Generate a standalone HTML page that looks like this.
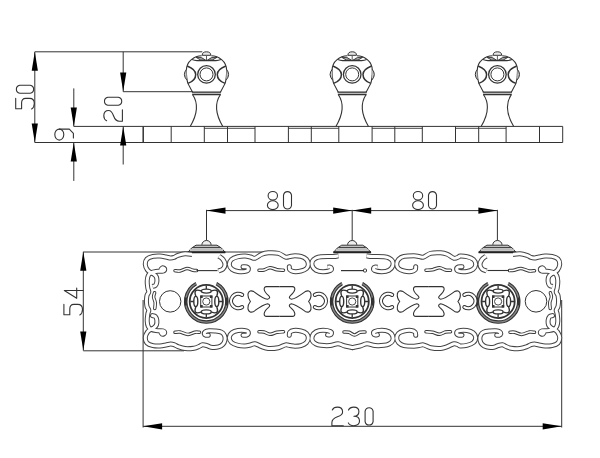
<!DOCTYPE html><html><head><meta charset="utf-8"><style>html,body{margin:0;padding:0;background:#fff;width:600px;height:458px;overflow:hidden}svg{display:block}</style></head><body>
<div id="wrap"><svg width="600" height="458" viewBox="0 0 600 458">
<rect width="600" height="458" fill="#fff"/>
<defs>
<g id="knob" fill="none" stroke="#333" stroke-width="1">
<path d="M-4.3,55.3 A4.3,3.5 0 0 1 4.3,55.3 Z" fill="#e8e8e8"/>
<path d="M-10.5,57.3 Q-5,56.2 -0.8,60.2 Q-6,61.4 -10.5,57.3 Z M10.5,57.3 Q5,56.2 0.8,60.2 Q6,61.4 10.5,57.3 Z" fill="#aaa" stroke-width="0.9"/>
<path d="M0,56 V60.5" stroke-width="0.8"/>
<path d="M-14.5,59.6 Q-12,60.6 -9.5,60.6 H9.5 Q12,60.6 14.5,59.6" stroke-width="1.1"/>
<path d="M-4.8,55.8 C-12,56 -20,61 -20.1,70 C-20.2,77 -19.5,80.5 -18.6,83.4 L-13.9,92.2 M4.8,55.8 C12,56 20,61 20.1,70 C20.2,77 19.5,80.5 18.6,83.4 L13.9,92.2" stroke-width="1.1"/>
<path d="M-20,69.3 Q-24.3,74.5 -19.8,79.9 M20,69.3 Q24.3,74.5 19.8,79.9" fill="#c8c8c8"/>
<path d="M-19.3,66 C-13,68.5 -10.8,71.5 -10.8,74.5 C-10.8,78.5 -14,81.8 -18.6,83.4 M19.3,66 C13,68.5 10.8,71.5 10.8,74.5 C10.8,78.5 14,81.8 18.6,83.4" stroke-width="1.5"/>
<circle cx="0" cy="74.4" r="8.8" stroke-width="1.3"/>
<circle cx="0" cy="74.4" r="6.5" stroke-width="1"/>
<rect x="-14.4" y="92.1" width="28.8" height="2.5" fill="#bbb" stroke="none"/><path d="M-14.6,92.1 H14.6 M-14.3,94.6 H14.3" stroke-width="1.3"/>
<path d="M-13.8,94.8 C-8.3,103 -8.3,113 -16.3,126.5 M13.8,94.8 C8.3,103 8.3,113 16.3,126.5" stroke-width="1.1"/>
</g>
<g id="hat" stroke="#333" stroke-width="1">
<path d="M-4.6,244.8 A4.6,4.3 0 0 1 4.6,244.8" fill="#eee"/>
<path d="M-10.5,245.2 H10.5 Q15.5,247.5 18.6,252.3 H-18.6 Q-15.5,247.5 -10.5,245.2 Z" fill="#c8c8c8"/>
<path d="M-13.6,247.5 H13.6" stroke="#444" stroke-width="1.1"/>
<path d="M-16.5,249.6 H16.5" stroke="#bbb" stroke-width="1.2"/>
<path d="M-18.8,252.3 H18.8" stroke-width="1.9" stroke="#222"/>
</g>
<g id="med" fill="none" stroke="#333" stroke-width="1"><path d="M9.99,-18.02 A20.6,20.6 0 1 1 -9.99,-18.02" stroke="#888" stroke-width="2.4"/><path d="M10.57,-19.07 A21.8,21.8 0 1 1 -10.57,-19.07" stroke-width="1.1"/><path d="M9.70,-16.80 A19.4,19.4 0 1 1 -9.70,-16.80" stroke-width="1.1"/><path d="M-20.6,-4 V4 M20.6,-4 V4" stroke-width="2.4"/><circle r="16.6" stroke-width="1.8"/><path d="M-10.5,-5.4 Q-13.4,-13.4 -5.2,-10.6" stroke-width="1.4"/><path d="M-10.5,5.4 Q-13.4,13.4 -5.2,10.6" stroke-width="1.4"/><path d="M10.5,-5.4 Q13.4,-13.4 5.2,-10.6" stroke-width="1.4"/><path d="M10.5,5.4 Q13.4,13.4 5.2,10.6" stroke-width="1.4"/><ellipse cx="0" cy="-10.4" rx="5" ry="2" stroke-width="1.4"/><ellipse cx="0" cy="10.4" rx="5" ry="2" stroke-width="1.4"/><ellipse cx="-10.5" cy="0" rx="2" ry="5.1" stroke-width="1.4"/><ellipse cx="10.5" cy="0" rx="2" ry="5.1" stroke-width="1.4"/><path d="M0,-12.4 V-16 M0,12.4 V16 M-12.5,0 H-16 M12.5,0 H16" stroke-width="1.3"/><rect x="-5.6" y="-5.5" width="11.2" height="11" stroke-width="1"/><path d="M-6.1,-6 h2.5 v2.5 h-2.5 Z M6.1,-6 h-2.5 v2.5 h2.5 Z M-6.1,6 h2.5 v-2.5 h-2.5 Z M6.1,6 h-2.5 v-2.5 h2.5 Z" fill="#333" stroke="none"/><circle r="3.6" stroke-width="0.9"/></g>
<g id="cc" fill="none" stroke="#333" stroke-width="1"><path d="M3.8,-6.1 A7.2,7.2 0 1 0 3.8,6.1" stroke-width="4.2" stroke-linecap="round"/><path d="M3.8,-6.1 A7.2,7.2 0 1 0 3.8,6.1" stroke="#fff" stroke-width="2.2" stroke-linecap="round"/></g>
</defs>
<g fill="none" stroke="#333" stroke-width="1">
<path d="M73.8,126.4 H562.7 M34.8,142.5 H562.7 M562.7,126.4 V142.5"/>
<path d="M143.2,126.4 V142.5" stroke-width="1.5"/>
<path d="M171.2,126.4 V142.5"/>
<path d="M204.3,126.4 V142.5"/>
<path d="M227.5,126.4 V142.5"/>
<path d="M255.0,126.4 V142.5"/>
<path d="M288.4,126.4 V142.5"/>
<path d="M311.3,126.4 V142.5"/>
<path d="M338.8,126.4 V142.5"/>
<path d="M372.1,126.4 V142.5"/>
<path d="M394.8,126.4 V142.5"/>
<path d="M422.3,126.4 V142.5"/>
<path d="M455.5,126.4 V142.5"/>
<path d="M478.7,126.4 V142.5"/>
<path d="M506.1,126.4 V142.5"/>
<path d="M539.5,126.4 V142.5"/>
<path d="M204.3,128.3 H255.0" stroke-width="0.9"/>
<path d="M288.4,128.3 H338.8" stroke-width="0.9"/>
<path d="M372.1,128.3 H422.3" stroke-width="0.9"/>
<path d="M455.5,128.3 H506.1" stroke-width="0.9"/>
<path d="M34.8,51.8 H202.3 M34.8,51.8 V142.5"/>
<path d="M123.2,51.8 V91.7 H192.6 M123.2,126.4 V164.5"/>
<path d="M73.8,88.4 V126.4 M73.8,142.5 V180.9"/>
</g>
<g fill="#000" stroke="none">
<polygon points="34.80,51.80 31.70,70.80 37.90,70.80"/>
<polygon points="34.80,142.50 31.70,123.50 37.90,123.50"/>
<polygon points="123.20,91.50 120.10,72.50 126.30,72.50"/>
<polygon points="123.20,126.40 120.10,145.40 126.30,145.40"/>
<polygon points="73.80,126.40 70.70,107.40 76.90,107.40"/>
<polygon points="73.80,142.50 70.70,161.50 76.90,161.50"/>
</g>
<use href="#knob" transform="translate(206.5,0)"/>
<use href="#knob" transform="translate(352.2,0)"/>
<use href="#knob" transform="translate(497.4,0)"/>
<g fill="none" stroke="#333" stroke-width="1.1" stroke-linecap="round" stroke-linejoin="round">
<g transform="translate(15.2,109.4) rotate(-90)"><path d="M11,0.5 H0.6 V6.4 H6.6 Q11,6.4 11,10.4 V14.4 Q11,19.1 5.8,19.1 Q1.8,19.1 0.5,16.4"/></g>
<g transform="translate(15.2,93.7) rotate(-90)"><path d="M0.5,4.6 V15 A4.1,4.4 0 0 0 8.5,15 V4.6 A4.1,4.4 0 0 0 0.5,4.6 Z"/></g>
<g transform="translate(103.3,121.7) rotate(-90)"><path d="M0.9,3.3 Q2.3,0.5 5.9,0.5 Q11.2,0.5 11.2,5.3 Q11.2,8.4 6,10.2 Q0.5,12.2 0.5,16 V19.1 H11.9"/></g>
<g transform="translate(103.3,105.7) rotate(-90)"><path d="M0.5,4.6 V15 A4.1,4.4 0 0 0 8.5,15 V4.6 A4.1,4.4 0 0 0 0.5,4.6 Z"/></g>
<g transform="translate(54.3,140.6) rotate(-90)"><ellipse cx="6" cy="5" rx="5.5" ry="4.5"/><path d="M11.5,5 V15 L7.3,19.1 H2.6"/></g>
<g transform="translate(63.4,315.4) rotate(-90)"><path d="M11,0.5 H0.6 V6.4 H6.6 Q11,6.4 11,10.4 V14.4 Q11,19.1 5.8,19.1 Q1.8,19.1 0.5,16.4"/></g>
<g transform="translate(63.8,298.8) rotate(-90)"><path d="M8.3,19.4 V0.5 L0.5,12.9 H10.8"/></g>
<g transform="translate(266.8,190.5)"><ellipse cx="6" cy="5.3" rx="4.7" ry="4.3"/><ellipse cx="6" cy="14.7" rx="5.4" ry="4.4"/></g>
<g transform="translate(283,190.5)"><path d="M0.5,4.6 V15 A4.1,4.4 0 0 0 8.5,15 V4.6 A4.1,4.4 0 0 0 0.5,4.6 Z"/></g>
<g transform="translate(412,190.5)"><ellipse cx="6" cy="5.3" rx="4.7" ry="4.3"/><ellipse cx="6" cy="14.7" rx="5.4" ry="4.4"/></g>
<g transform="translate(428,190.5)"><path d="M0.5,4.6 V15 A4.1,4.4 0 0 0 8.5,15 V4.6 A4.1,4.4 0 0 0 0.5,4.6 Z"/></g>
<g transform="translate(331.4,406.6)"><path d="M0.9,3.3 Q2.3,0.5 5.9,0.5 Q11.2,0.5 11.2,5.3 Q11.2,8.4 6,10.2 Q0.5,12.2 0.5,16 V19.1 H11.9"/></g>
<g transform="translate(347.9,406.6)"><path d="M0.6,3.5 Q2,0.5 5.8,0.5 Q11,0.5 11,5 Q11,9.7 6,9.7 Q11.6,9.7 11.6,14.5 Q11.6,19.1 5.8,19.1 Q1.6,19.1 0.4,16.3"/></g>
<g transform="translate(364.6,406.6)"><path d="M0.5,4.6 V15 A4.1,4.4 0 0 0 8.5,15 V4.6 A4.1,4.4 0 0 0 0.5,4.6 Z"/></g>
</g>
<g fill="none" stroke="#333" stroke-width="1">
<path d="M206.5,209.8 V240.4 M352.2,209.8 V240.4 M497.4,209.8 V240.4 M206.5,210.6 H497.4"/>
<path d="M83.3,251.8 V350.6 M83.3,252 H275 M83.3,350.8 H184"/>
<path d="M143.1,300 V427.5 M561.7,300 V427.5 M143.1,426.3 H561.7"/>
</g>
<g fill="#000" stroke="none">
<polygon points="206.50,210.60 225.50,207.50 225.50,213.70"/>
<polygon points="352.20,210.60 333.20,207.50 333.20,213.70"/>
<polygon points="352.20,210.60 371.20,207.50 371.20,213.70"/>
<polygon points="497.40,210.60 478.40,207.50 478.40,213.70"/>
<polygon points="83.30,251.80 80.20,270.80 86.40,270.80"/>
<polygon points="83.30,350.60 80.20,331.60 86.40,331.60"/>
<polygon points="143.10,426.30 162.10,423.20 162.10,429.40"/>
<polygon points="561.70,426.30 542.70,423.20 542.70,429.40"/>
</g>
<use href="#hat" transform="translate(206.5,0)"/>
<use href="#hat" transform="translate(352.2,0)"/>
<use href="#hat" transform="translate(497.4,0)"/>
<defs><g id="bL"><path d="M152.50,315.60 C152.97,315.75 154.58,315.77 155.30,316.50 C156.02,317.23 156.62,318.58 156.80,320.00 C156.98,321.42 156.90,323.70 156.40,325.00 C155.90,326.30 154.70,327.08 153.80,327.80 C152.90,328.52 152.05,328.60 151.00,329.30 C149.95,330.00 148.45,330.63 147.50,332.00 C146.55,333.37 145.38,335.67 145.30,337.50 C145.22,339.33 145.72,341.65 147.00,343.00 C148.28,344.35 150.83,345.10 153.00,345.60 C155.17,346.10 157.83,346.10 160.00,346.00 C162.17,345.90 164.25,345.33 166.00,345.00 C167.75,344.67 169.17,344.07 170.50,344.00 C171.83,343.93 172.75,344.17 174.00,344.60 C175.25,345.03 176.17,345.93 178.00,346.60 C179.83,347.27 182.33,348.33 185.00,348.60 C187.67,348.87 191.67,348.55 194.00,348.20 C196.33,347.85 197.58,347.07 199.00,346.50 C200.42,345.93 201.17,344.95 202.50,344.80 C203.83,344.65 205.58,345.20 207.00,345.60 C208.42,346.00 209.08,346.98 211.00,347.20 C212.92,347.42 216.50,347.40 218.50,346.90 C220.50,346.40 221.92,345.35 223.00,344.20 C224.08,343.05 224.75,341.45 225.00,340.00 C225.25,338.55 225.08,336.80 224.50,335.50 C223.92,334.20 223.08,332.95 221.50,332.20 C219.92,331.45 217.08,331.23 215.00,331.00 C212.92,330.77 210.62,330.68 209.00,330.80 C207.38,330.92 206.08,331.17 205.30,331.70 C204.52,332.23 204.18,333.40 204.30,334.00 C204.42,334.60 205.33,335.10 206.00,335.30 C206.67,335.50 207.92,335.22 208.30,335.20"/><path d="M160.90,332.60 C161.18,332.88 161.97,334.25 162.60,334.30 C163.23,334.35 164.67,333.48 164.70,332.90 C164.73,332.32 164.25,331.18 162.80,330.80 C161.35,330.42 157.97,330.85 156.00,330.60 C154.03,330.35 152.28,329.98 151.00,329.30 C149.72,328.62 148.93,327.88 148.30,326.50 C147.67,325.12 147.28,323.08 147.20,321.00 C147.12,318.92 147.53,315.80 147.80,314.00 C148.07,312.20 148.93,311.45 148.80,310.20 C148.67,308.95 147.40,307.95 147.00,306.50 C146.60,305.05 146.50,302.33 146.40,301.50"/><path d="M243.00,335.20 C243.58,335.18 245.60,335.43 246.50,335.10 C247.40,334.77 248.40,333.90 248.40,333.20 C248.40,332.50 248.23,331.33 246.50,330.90 C244.77,330.47 240.42,330.28 238.00,330.60 C235.58,330.92 233.45,331.65 232.00,332.80 C230.55,333.95 229.38,335.88 229.30,337.50 C229.22,339.12 230.05,341.20 231.50,342.50 C232.95,343.80 235.75,344.72 238.00,345.30 C240.25,345.88 242.92,346.05 245.00,346.00 C247.08,345.95 248.83,345.38 250.50,345.00 C252.17,344.62 253.13,343.42 255.00,343.70 C256.87,343.98 259.48,345.90 261.70,346.70 C263.92,347.50 265.53,348.33 268.30,348.50 C271.07,348.67 275.43,348.30 278.30,347.70 C281.17,347.10 283.55,345.25 285.50,344.90 C287.45,344.55 288.42,345.38 290.00,345.60 C291.58,345.82 293.17,346.20 295.00,346.20 C296.83,346.20 299.12,346.17 301.00,345.60 C302.88,345.03 305.08,344.07 306.30,342.80 C307.52,341.53 308.27,339.55 308.30,338.00 C308.33,336.45 307.72,334.67 306.50,333.50 C305.28,332.33 303.17,331.50 301.00,331.00 C298.83,330.50 295.37,330.28 293.50,330.50 C291.63,330.72 290.50,331.50 289.80,332.30 C289.10,333.10 289.38,334.80 289.30,335.30"/><path d="M327.60,334.70 C327.92,334.77 328.88,335.22 329.50,335.10 C330.12,334.98 331.13,334.58 331.30,334.00 C331.47,333.42 331.88,332.22 330.50,331.60 C329.12,330.98 325.42,330.27 323.00,330.30 C320.58,330.33 317.78,330.85 316.00,331.80 C314.22,332.75 312.88,334.47 312.30,336.00 C311.72,337.53 311.88,339.67 312.50,341.00 C313.12,342.33 314.58,343.28 316.00,344.00 C317.42,344.72 318.67,345.05 321.00,345.30 C323.33,345.55 327.17,345.75 330.00,345.50 C332.83,345.25 335.50,343.72 338.00,343.80 C340.50,343.88 342.58,345.37 345.00,346.00 C347.42,346.63 351.25,347.33 352.50,347.60"/><path d="M160.90,269.40 C161.18,269.12 161.97,267.75 162.60,267.70 C163.23,267.65 164.67,268.52 164.70,269.10 C164.73,269.68 164.25,270.82 162.80,271.20 C161.35,271.58 157.97,271.15 156.00,271.40 C154.03,271.65 152.28,272.02 151.00,272.70 C149.72,273.38 148.93,274.12 148.30,275.50 C147.67,276.88 147.28,278.92 147.20,281.00 C147.12,283.08 147.53,286.20 147.80,288.00 C148.07,289.80 148.93,290.55 148.80,291.80 C148.67,293.05 147.40,294.05 147.00,295.50 C146.60,296.95 146.50,299.67 146.40,300.50"/><path d="M243.00,266.80 C243.58,266.82 245.60,266.57 246.50,266.90 C247.40,267.23 248.40,268.10 248.40,268.80 C248.40,269.50 248.23,270.67 246.50,271.10 C244.77,271.53 240.42,271.72 238.00,271.40 C235.58,271.08 233.45,270.35 232.00,269.20 C230.55,268.05 229.38,266.12 229.30,264.50 C229.22,262.88 230.05,260.80 231.50,259.50 C232.95,258.20 235.75,257.28 238.00,256.70 C240.25,256.12 242.92,255.95 245.00,256.00 C247.08,256.05 248.83,256.62 250.50,257.00 C252.17,257.38 253.13,258.75 255.00,258.30 C256.87,257.85 259.48,255.22 261.70,254.30 C263.92,253.38 265.53,252.97 268.30,252.80 C271.07,252.63 275.43,252.58 278.30,253.30 C281.17,254.02 283.55,256.58 285.50,257.10 C287.45,257.62 288.42,256.62 290.00,256.40 C291.58,256.18 293.17,255.80 295.00,255.80 C296.83,255.80 299.12,255.83 301.00,256.40 C302.88,256.97 305.08,257.93 306.30,259.20 C307.52,260.47 308.27,262.45 308.30,264.00 C308.33,265.55 307.72,267.33 306.50,268.50 C305.28,269.67 303.17,270.50 301.00,271.00 C298.83,271.50 295.37,271.72 293.50,271.50 C291.63,271.28 290.50,270.50 289.80,269.70 C289.10,268.90 289.38,267.20 289.30,266.70"/><path d="M552.50,315.60 C552.03,315.75 550.42,315.77 549.70,316.50 C548.98,317.23 548.38,318.58 548.20,320.00 C548.02,321.42 548.10,323.70 548.60,325.00 C549.10,326.30 550.30,327.08 551.20,327.80 C552.10,328.52 552.95,328.60 554.00,329.30 C555.05,330.00 556.55,330.63 557.50,332.00 C558.45,333.37 559.62,335.67 559.70,337.50 C559.78,339.33 559.28,341.65 558.00,343.00 C556.72,344.35 554.17,345.10 552.00,345.60 C549.83,346.10 547.17,346.10 545.00,346.00 C542.83,345.90 540.75,345.33 539.00,345.00 C537.25,344.67 535.83,344.07 534.50,344.00 C533.17,343.93 532.25,344.17 531.00,344.60 C529.75,345.03 528.83,345.93 527.00,346.60 C525.17,347.27 522.67,348.33 520.00,348.60 C517.33,348.87 513.33,348.55 511.00,348.20 C508.67,347.85 507.42,347.07 506.00,346.50 C504.58,345.93 503.83,344.95 502.50,344.80 C501.17,344.65 499.42,345.20 498.00,345.60 C496.58,346.00 495.92,346.98 494.00,347.20 C492.08,347.42 488.50,347.40 486.50,346.90 C484.50,346.40 483.08,345.35 482.00,344.20 C480.92,343.05 480.25,341.45 480.00,340.00 C479.75,338.55 479.92,336.80 480.50,335.50 C481.08,334.20 481.92,332.95 483.50,332.20 C485.08,331.45 487.92,331.23 490.00,331.00 C492.08,330.77 494.38,330.68 496.00,330.80 C497.62,330.92 498.92,331.17 499.70,331.70 C500.48,332.23 500.82,333.40 500.70,334.00 C500.58,334.60 499.67,335.10 499.00,335.30 C498.33,335.50 497.08,335.22 496.70,335.20"/><path d="M544.10,332.60 C543.82,332.88 543.03,334.25 542.40,334.30 C541.77,334.35 540.33,333.48 540.30,332.90 C540.27,332.32 540.75,331.18 542.20,330.80 C543.65,330.42 547.03,330.85 549.00,330.60 C550.97,330.35 552.72,329.98 554.00,329.30 C555.28,328.62 556.07,327.88 556.70,326.50 C557.33,325.12 557.72,323.08 557.80,321.00 C557.88,318.92 557.47,315.80 557.20,314.00 C556.93,312.20 556.07,311.45 556.20,310.20 C556.33,308.95 557.60,307.95 558.00,306.50 C558.40,305.05 558.50,302.33 558.60,301.50"/><path d="M462.00,335.20 C461.42,335.18 459.40,335.43 458.50,335.10 C457.60,334.77 456.60,333.90 456.60,333.20 C456.60,332.50 456.77,331.33 458.50,330.90 C460.23,330.47 464.58,330.28 467.00,330.60 C469.42,330.92 471.55,331.65 473.00,332.80 C474.45,333.95 475.62,335.88 475.70,337.50 C475.78,339.12 474.95,341.20 473.50,342.50 C472.05,343.80 469.25,344.72 467.00,345.30 C464.75,345.88 461.42,346.05 460.00,346.00 C458.58,345.95 459.50,345.38 458.50,345.00 C457.50,344.62 455.87,343.42 454.00,343.70 C452.13,343.98 449.52,345.90 447.30,346.70 C445.08,347.50 443.47,348.33 440.70,348.50 C437.93,348.67 433.57,348.30 430.70,347.70 C427.83,347.10 425.45,345.25 423.50,344.90 C421.55,344.55 420.58,345.38 419.00,345.60 C417.42,345.82 416.50,346.20 414.00,346.20 C411.50,346.20 406.55,346.17 404.00,345.60 C401.45,345.03 399.92,344.07 398.70,342.80 C397.48,341.53 396.73,339.55 396.70,338.00 C396.67,336.45 397.28,334.67 398.50,333.50 C399.72,332.33 401.83,331.50 404.00,331.00 C406.17,330.50 409.63,330.28 411.50,330.50 C413.37,330.72 414.50,331.50 415.20,332.30 C415.90,333.10 415.62,334.80 415.70,335.30"/><path d="M377.40,334.70 C377.08,334.77 376.12,335.22 375.50,335.10 C374.88,334.98 373.87,334.58 373.70,334.00 C373.53,333.42 373.12,332.22 374.50,331.60 C375.88,330.98 379.58,330.27 382.00,330.30 C384.42,330.33 387.22,330.85 389.00,331.80 C390.78,332.75 392.12,334.47 392.70,336.00 C393.28,337.53 393.12,339.67 392.50,341.00 C391.88,342.33 390.42,343.28 389.00,344.00 C387.58,344.72 386.33,345.05 384.00,345.30 C381.67,345.55 377.83,345.75 375.00,345.50 C372.17,345.25 369.50,343.72 367.00,343.80 C364.50,343.88 362.42,345.37 360.00,346.00 C357.58,346.63 353.75,347.33 352.50,347.60"/><path d="M544.10,269.40 C543.82,269.12 543.03,267.75 542.40,267.70 C541.77,267.65 540.33,268.52 540.30,269.10 C540.27,269.68 540.75,270.82 542.20,271.20 C543.65,271.58 547.03,271.15 549.00,271.40 C550.97,271.65 552.72,272.02 554.00,272.70 C555.28,273.38 556.07,274.12 556.70,275.50 C557.33,276.88 557.72,278.92 557.80,281.00 C557.88,283.08 557.47,286.20 557.20,288.00 C556.93,289.80 556.07,290.55 556.20,291.80 C556.33,293.05 557.60,294.05 558.00,295.50 C558.40,296.95 558.50,299.67 558.60,300.50"/><path d="M462.00,266.80 C461.42,266.82 459.40,266.57 458.50,266.90 C457.60,267.23 456.60,268.10 456.60,268.80 C456.60,269.50 456.77,270.67 458.50,271.10 C460.23,271.53 464.58,271.72 467.00,271.40 C469.42,271.08 471.55,270.35 473.00,269.20 C474.45,268.05 475.62,266.12 475.70,264.50 C475.78,262.88 474.95,260.80 473.50,259.50 C472.05,258.20 469.25,257.28 467.00,256.70 C464.75,256.12 461.42,255.95 460.00,256.00 C458.58,256.05 459.50,256.62 458.50,257.00 C457.50,257.38 455.87,258.75 454.00,258.30 C452.13,257.85 449.52,255.22 447.30,254.30 C445.08,253.38 443.47,252.97 440.70,252.80 C437.93,252.63 433.57,252.58 430.70,253.30 C427.83,254.02 425.45,256.58 423.50,257.10 C421.55,257.62 420.58,256.62 419.00,256.40 C417.42,256.18 416.50,255.80 414.00,255.80 C411.50,255.80 406.55,255.83 404.00,256.40 C401.45,256.97 399.92,257.93 398.70,259.20 C397.48,260.47 396.73,262.45 396.70,264.00 C396.67,265.55 397.28,267.33 398.50,268.50 C399.72,269.67 401.83,270.50 404.00,271.00 C406.17,271.50 409.63,271.72 411.50,271.50 C413.37,271.28 414.50,270.50 415.20,269.70 C415.90,268.90 415.62,267.20 415.70,266.70"/><path stroke-linecap="butt" d="M152.50,286.40 C152.97,286.25 154.58,286.23 155.30,285.50 C156.02,284.77 156.62,283.42 156.80,282.00 C156.98,280.58 156.90,278.30 156.40,277.00 C155.90,275.70 154.70,274.92 153.80,274.20 C152.90,273.48 152.05,273.40 151.00,272.70 C149.95,272.00 148.45,271.37 147.50,270.00 C146.55,268.63 145.38,266.33 145.30,264.50 C145.22,262.67 145.72,260.35 147.00,259.00 C148.28,257.65 150.83,256.90 153.00,256.40 C155.17,255.90 157.83,255.90 160.00,256.00 C162.17,256.10 164.25,256.67 166.00,257.00 C167.75,257.33 169.17,257.93 170.50,258.00 C171.83,258.07 172.75,257.83 174.00,257.40 C175.25,256.97 176.17,256.00 178.00,255.40 C179.83,254.80 182.67,253.97 185.00,253.80 C187.33,253.63 190.83,254.30 192.00,254.40"/><path stroke-linecap="butt" d="M219.00,256.20 C219.67,256.75 222.00,258.12 223.00,259.50 C224.00,260.88 225.00,262.92 225.00,264.50 C225.00,266.08 224.08,267.92 223.00,269.00 C221.92,270.08 219.25,270.67 218.50,271.00"/><path stroke-linecap="butt" d="M327.60,267.30 C327.92,267.23 328.88,266.78 329.50,266.90 C330.12,267.02 331.13,267.42 331.30,268.00 C331.47,268.58 331.88,269.78 330.50,270.40 C329.12,271.02 325.42,271.73 323.00,271.70 C320.58,271.67 317.78,271.15 316.00,270.20 C314.22,269.25 312.88,267.53 312.30,266.00 C311.72,264.47 311.88,262.33 312.50,261.00 C313.12,259.67 314.58,258.72 316.00,258.00 C317.42,257.28 318.17,256.95 321.00,256.70 C323.83,256.45 330.08,256.65 333.00,256.50 C335.92,256.35 337.58,255.92 338.50,255.80"/><path stroke-linecap="butt" d="M552.50,286.40 C552.03,286.25 550.42,286.23 549.70,285.50 C548.98,284.77 548.38,283.42 548.20,282.00 C548.02,280.58 548.10,278.30 548.60,277.00 C549.10,275.70 550.30,274.92 551.20,274.20 C552.10,273.48 552.95,273.40 554.00,272.70 C555.05,272.00 556.55,271.37 557.50,270.00 C558.45,268.63 559.62,266.33 559.70,264.50 C559.78,262.67 559.28,260.35 558.00,259.00 C556.72,257.65 554.17,256.90 552.00,256.40 C549.83,255.90 547.17,255.90 545.00,256.00 C542.83,256.10 540.75,256.67 539.00,257.00 C537.25,257.33 535.83,257.93 534.50,258.00 C533.17,258.07 532.25,257.83 531.00,257.40 C529.75,256.97 528.83,256.00 527.00,255.40 C525.17,254.80 522.33,253.97 520.00,253.80 C517.67,253.63 514.17,254.30 513.00,254.40"/><path stroke-linecap="butt" d="M486.00,256.20 C485.33,256.75 483.00,258.12 482.00,259.50 C481.00,260.88 480.00,262.92 480.00,264.50 C480.00,266.08 480.92,267.92 482.00,269.00 C483.08,270.08 485.75,270.67 486.50,271.00"/><path stroke-linecap="butt" d="M377.40,267.30 C377.08,267.23 376.12,266.78 375.50,266.90 C374.88,267.02 373.87,267.42 373.70,268.00 C373.53,268.58 373.12,269.78 374.50,270.40 C375.88,271.02 379.58,271.73 382.00,271.70 C384.42,271.67 387.22,271.15 389.00,270.20 C390.78,269.25 392.12,267.53 392.70,266.00 C393.28,264.47 393.12,262.33 392.50,261.00 C391.88,259.67 390.42,258.72 389.00,258.00 C387.58,257.28 386.83,256.95 384.00,256.70 C381.17,256.45 374.92,256.65 372.00,256.50 C369.08,256.35 367.42,255.92 366.50,255.80"/></g>
<g id="tL"><path d="M175.00,332.30 C175.83,332.25 177.83,331.65 180.00,332.00 C182.17,332.35 185.50,334.37 188.00,334.40 C190.50,334.43 193.08,332.55 195.00,332.20 C196.92,331.85 198.75,332.28 199.50,332.30"/><path d="M259.00,331.80 C259.83,331.83 262.17,331.58 264.00,332.00 C265.83,332.42 267.83,334.25 270.00,334.30 C272.17,334.35 274.75,332.72 277.00,332.30 C279.25,331.88 282.42,331.88 283.50,331.80"/><path d="M154.60,292.80 C154.43,293.50 153.50,295.38 153.60,297.00 C153.70,298.62 155.00,300.58 155.20,302.50 C155.40,304.42 154.87,307.50 154.80,308.50"/><path d="M175.00,270.70 C175.83,270.75 178.00,271.37 180.00,271.00 C182.00,270.63 184.83,268.63 187.00,268.50 C189.17,268.37 191.42,269.85 193.00,270.20 C194.58,270.55 195.92,270.53 196.50,270.60"/><path d="M259.00,270.20 C259.83,270.17 262.17,270.42 264.00,270.00 C265.83,269.58 267.83,267.75 270.00,267.70 C272.17,267.65 274.75,269.28 277.00,269.70 C279.25,270.12 282.42,270.12 283.50,270.20"/><path d="M534.50,332.30 C533.67,332.25 531.67,331.65 529.50,332.00 C527.33,332.35 524.00,334.37 521.50,334.40 C519.00,334.43 516.42,332.55 514.50,332.20 C512.58,331.85 510.75,332.28 510.00,332.30"/><path d="M450.50,331.80 C449.67,331.83 447.33,331.58 445.50,332.00 C443.67,332.42 441.67,334.25 439.50,334.30 C437.33,334.35 434.75,332.72 432.50,332.30 C430.25,331.88 427.08,331.88 426.00,331.80"/><path d="M550.40,292.80 C550.57,293.50 551.50,295.38 551.40,297.00 C551.30,298.62 550.00,300.58 549.80,302.50 C549.60,304.42 550.13,307.50 550.20,308.50"/><path d="M534.50,270.70 C533.58,270.75 531.25,271.37 529.00,271.00 C526.75,270.63 523.50,268.63 521.00,268.50 C518.50,268.37 515.92,269.85 514.00,270.20 C512.08,270.55 510.25,270.53 509.50,270.60"/><path d="M450.50,270.20 C449.67,270.17 447.33,270.42 445.50,270.00 C443.67,269.58 441.67,267.75 439.50,267.70 C437.33,267.65 434.75,269.28 432.50,269.70 C430.25,270.12 427.08,270.12 426.00,270.20"/><path d="M344.00,332.00 C344.83,332.05 347.25,331.80 349.00,332.30 C350.75,332.80 352.67,335.00 354.50,335.00 C356.33,335.00 358.25,332.80 360.00,332.30 C361.75,331.80 364.17,332.05 365.00,332.00"/></g></defs>
<g fill="none" stroke-linecap="round" stroke-linejoin="round">
<g stroke="#444" stroke-width="5.0"><use href="#bL"/></g>
<g stroke="#fff" stroke-width="3.0"><use href="#bL"/></g>
<g stroke="#3a3a3a" stroke-width="3.5"><use href="#tL"/></g>
<g stroke="#fff" stroke-width="1.6"><use href="#tL"/></g>
</g>
<path d="M196.5,270.6 H217.5" fill="none" stroke="#333" stroke-width="1.1"/>
<path d="M509,270.5 H487.5" fill="none" stroke="#333" stroke-width="1.1"/>
<path d="M341,270.6 H363.5" fill="none" stroke="#333" stroke-width="1.2"/><rect x="363.5" y="269" width="3" height="3" rx="1" fill="none" stroke="#333" stroke-width="1"/>
<g fill="none" stroke="#333" stroke-width="1">
<circle cx="170.2" cy="301.4" r="10.7"/><circle cx="536" cy="301.3" r="10.8"/>
</g>
<use href="#med" transform="translate(206.3,301.5)"/>
<use href="#med" transform="translate(352.2,301.5)"/>
<use href="#med" transform="translate(498.1,301.5)"/>
<use href="#cc" transform="translate(238.3,301)"/>
<use href="#cc" transform="translate(318.7,301) scale(-1,1)"/>
<use href="#cc" transform="translate(388.3,301)"/>
<use href="#cc" transform="translate(468.2,301) scale(-1,1)"/>
<defs><path id="crossL" d="M279.5,286.6 H266.5 Q264,286.6 264.2,289.5 Q264.6,292.3 268.6,295.6 Q271.2,298 267.6,299.3 Q263.5,298.8 253.8,291.6 Q249.4,289.6 248.1,293.5 Q247.4,297.8 250.4,301.5 Q247.4,305.2 248.1,309.5 Q249.4,313.4 253.8,311.4 Q263.5,304.2 267.6,303.7 Q271.2,305 268.6,307.4 Q264.6,310.7 264.2,313.5 Q264,316.4 266.5,316.4 H279.5"/></defs>
<g fill="none" stroke="#333" stroke-width="1.1" transform="translate(0.0,0)"><use href="#crossL"/><use href="#crossL" transform="translate(559,0) scale(-1,1)"/></g>
<g fill="none" stroke="#333" stroke-width="1.1" transform="translate(149.3,0)"><use href="#crossL"/><use href="#crossL" transform="translate(559,0) scale(-1,1)"/></g>
</svg></div></body></html>
